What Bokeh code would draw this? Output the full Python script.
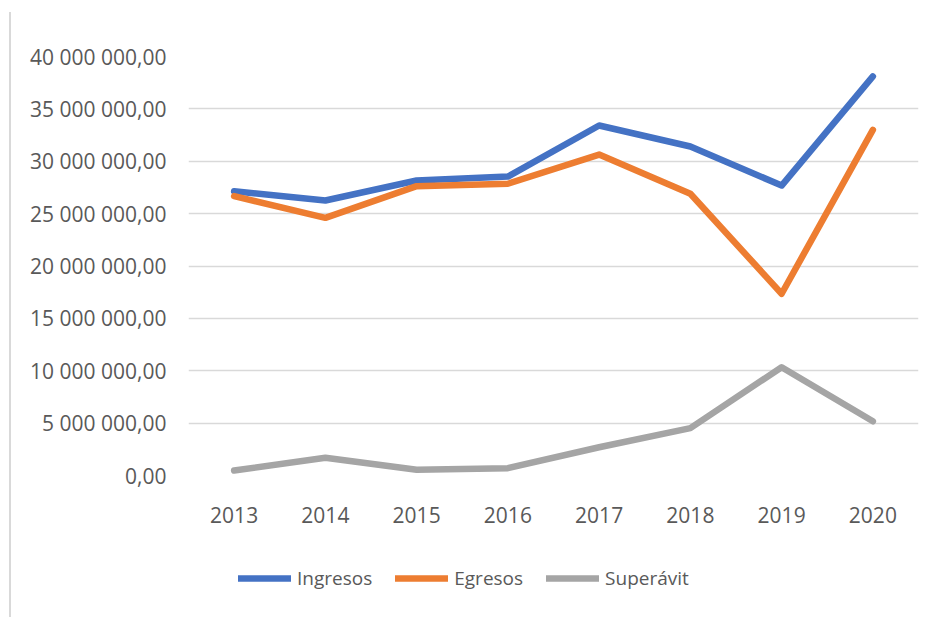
from bokeh.plotting import figure
from bokeh.layouts import column
from bokeh.models import FactorRange, Range1d, FixedTicker, Legend, LegendItem
from bokeh.embed import file_html
from bokeh.resources import INLINE

years = ["2013", "2014", "2015", "2016", "2017", "2018", "2019", "2020"]
ingresos = [27.14e6, 26.25e6, 28.16e6, 28.54e6, 33.41e6, 31.41e6, 27.68e6, 38.10e6]
egresos = [26.67e6, 24.60e6, 27.62e6, 27.85e6, 30.64e6, 26.90e6, 17.35e6, 33.00e6]
superavit = [0.48e6, 1.69e6, 0.54e6, 0.70e6, 2.70e6, 4.52e6, 10.34e6, 5.18e6]

y_ticks = [0, 5e6, 10e6, 15e6, 20e6, 25e6, 30e6, 35e6, 40e6]
y_tick_labels = ["0,00", "5 000 000,00", "10 000 000,00", "15 000 000,00",
                 "20 000 000,00", "25 000 000,00", "30 000 000,00",
                 "35 000 000,00", "40 000 000,00"]

series_names = ["Ingresos", "Egresos", "Superávit"]
series_colors = ["#4472C4", "#ED7D31", "#A5A5A5"]
series_values = [ingresos, egresos, superavit]

FONT = "Open Sans"
TEXT_COLOR = "#595959"
LW = 6.5

# main chart
p = figure(x_range=FactorRange(*years), y_range=Range1d(0, 40e6),
           width=915, height=528, output_backend="svg", toolbar_location=None,
           min_border_left=177, min_border_right=8, min_border_top=44,
           min_border_bottom=65)
p.outline_line_color = None

for vals, color in zip(series_values, series_colors):
    p.line(x=years, y=vals, line_color=color, line_width=LW,
           line_cap="round", line_join="round")

p.xgrid.grid_line_color = None
p.ygrid.grid_line_color = "#d9d9d9"
p.ygrid.grid_line_width = 1.5
p.yaxis.ticker = FixedTicker(ticks=y_ticks)
p.yaxis.major_label_overrides = {t: l for t, l in zip(y_ticks, y_tick_labels)}

for ax in (p.xaxis, p.yaxis):
    ax.axis_line_color = None
    ax.major_tick_line_color = None
    ax.minor_tick_line_color = None
    ax.major_tick_out = 0
    ax.major_tick_in = 0
    ax.major_label_text_font = FONT
    ax.major_label_text_font_size = "21px"
    ax.major_label_text_color = TEXT_COLOR
p.yaxis.major_label_standoff = 22
p.xaxis.major_label_standoff = 31

# legend strip (same series, drawn out of view so only the legend shows)
q = figure(x_range=FactorRange(*years), y_range=Range1d(100e6, 101e6),
           width=915, height=77, output_backend="svg", toolbar_location=None,
           x_axis_location=None, y_axis_location=None,
           min_border_left=0, min_border_right=0, min_border_top=0,
           min_border_bottom=0)
q.outline_line_color = None
q.grid.grid_line_color = None
legend_renderers = []
for vals, color in zip(series_values, series_colors):
    r = q.line(x=years, y=vals, line_color=color, line_width=LW,
               line_cap="round", line_join="round")
    legend_renderers.append(r)

items = [LegendItem(label=n, renderers=[r]) for n, r in zip(series_names, legend_renderers)]
legend = Legend(items=items, orientation="horizontal", location=(50, 26),
                label_text_font=FONT, label_text_font_size="19px",
                label_text_color=TEXT_COLOR,
                glyph_width=53, glyph_height=20, label_standoff=6, spacing=23,
                padding=0, margin=0, border_line_color=None,
                background_fill_alpha=0)
q.add_layout(legend, "center")

layout = column(p, q, spacing=0)
layout.styles = {"border-left": "2px solid #d9d9d9", "margin-left": "9px",
                 "margin-top": "12px"}

open("out.html", "w").write(file_html(layout, INLINE))
